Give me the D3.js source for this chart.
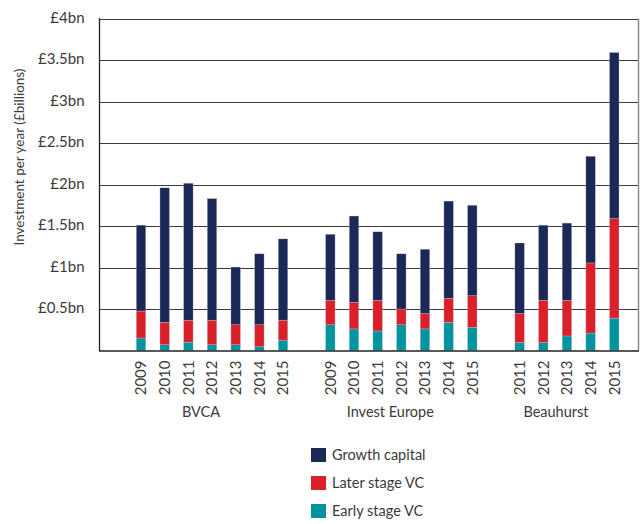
<!DOCTYPE html>
<html>
<head>
<meta charset="utf-8">
<script src="https://cdn.jsdelivr.net/npm/d3@7"></script>
<style>
  html, body { margin: 0; padding: 0; background: #fff; }
  text { font-family: Lato, "Open Sans", sans-serif; fill: #3a3a3a; }
</style>
</head>
<body>
<svg id="chart" width="641" height="524"></svg>
<script>
// ---- Data ----
const groups = ["BVCA", "Invest Europe", "Beauhurst"];
const bvcaYears = ["2009", "2010", "2011", "2012", "2013", "2014", "2015"];
const investEuropeYears = ["2009", "2010", "2011", "2012", "2013", "2014", "2015"];
const beauhurstYears = ["2011", "2012", "2013", "2014", "2015"];

// values in £bn
const bvcaEarly   = [0.15, 0.07, 0.10, 0.07, 0.07, 0.045, 0.125];
const bvcaLater   = [0.325, 0.27, 0.265, 0.295, 0.24, 0.265, 0.24];
const bvcaGrowth  = [1.035, 1.62, 1.65, 1.465, 0.695, 0.855, 0.98];

const ieEarly     = [0.31, 0.26, 0.235, 0.31, 0.26, 0.34, 0.28];
const ieLater     = [0.295, 0.32, 0.37, 0.19, 0.185, 0.29, 0.38];
const ieGrowth    = [0.795, 1.04, 0.825, 0.665, 0.775, 1.17, 1.09];

const bhEarly     = [0.095, 0.095, 0.175, 0.21, 0.39];
const bhLater     = [0.35, 0.51, 0.43, 0.845, 1.2];
const bhGrowth    = [0.85, 0.905, 0.93, 1.285, 2.0];

const seriesNames = ["Early stage VC", "Later stage VC", "Growth capital"];
const seriesColors = ["#0093a0", "#da2129", "#1c2957"];
const yTicks = [0.5, 1, 1.5, 2, 2.5, 3, 3.5, 4];
const yTickLabels = ["£0.5bn", "£1bn", "£1.5bn", "£2bn", "£2.5bn", "£3bn", "£3.5bn", "£4bn"];
const yTitle = "Investment per year (£billions)";

// ---- Build rows ----
const groupYears = [bvcaYears, investEuropeYears, beauhurstYears];
const groupEarly = [bvcaEarly, ieEarly, bhEarly];
const groupLater = [bvcaLater, ieLater, bhLater];
const groupGrowth = [bvcaGrowth, ieGrowth, bhGrowth];

const rows = [];
const slots = [];
groups.forEach((g, gi) => {
  if (gi > 0) slots.push("gap" + gi);
  groupYears[gi].forEach((y, i) => {
    const key = g + "|" + y;
    slots.push(key);
    rows.push({key, group: g, year: y,
      "Early stage VC": groupEarly[gi][i],
      "Later stage VC": groupLater[gi][i],
      "Growth capital": groupGrowth[gi][i]});
  });
});

// ---- Layout ----
const svg = d3.select("#chart");
const plotLeft = 99.5, plotRight = 639, plotTop = 18.5, plotBottom = 350.5;

const x = d3.scaleBand().domain(slots).range([129.2, 626.1])
  .paddingInner(0.6).paddingOuter(0.3);
const y = d3.scaleLinear().domain([0, 4]).range([plotBottom, plotTop]);

// gridlines
svg.append("g").selectAll("line").data(yTicks).join("line")
  .attr("x1", plotLeft).attr("x2", plotRight)
  .attr("y1", d => Math.round(y(d)) + 0.5).attr("y2", d => Math.round(y(d)) + 0.5)
  .attr("stroke", "#3c3c3c").attr("stroke-width", 1.2);

// right border
svg.append("line").attr("x1", plotRight - 0.5).attr("x2", plotRight - 0.5)
  .attr("y1", plotTop).attr("y2", plotBottom)
  .attr("stroke", "#8a8a8a").attr("stroke-width", 1.5);

// stacked bars
const stack = d3.stack().keys(seriesNames);
const stacked = stack(rows);
const color = d3.scaleOrdinal().domain(seriesNames).range(seriesColors);

svg.append("g").selectAll("g").data(stacked).join("g")
  .attr("fill", d => color(d.key))
  .selectAll("rect").data(d => d).join("rect")
  .attr("x", d => x(d.data.key))
  .attr("width", x.bandwidth())
  .attr("y", d => y(d[1]))
  .attr("height", d => y(d[0]) - y(d[1]))
  .attr("stroke", "#c9cbe0").attr("stroke-width", 0.5).attr("stroke-opacity", 0.6);

// y axis
const yAxis = d3.axisLeft(y).tickValues(yTicks)
  .tickFormat((d, i) => yTickLabels[i]).tickSize(0).tickPadding(15);
const yg = svg.append("g").attr("transform", `translate(${plotLeft},0)`).call(yAxis);
yg.select(".domain").remove();
yg.selectAll("text").style("font-size", "15px").attr("dy", "0.25em")
  .style("font-family", "Lato, sans-serif").attr("fill", "#3a3a3a");

// axis lines
svg.append("line").attr("x1", plotLeft).attr("x2", plotLeft)
  .attr("y1", plotTop - 0.5).attr("y2", plotBottom + 1)
  .attr("stroke", "#222").attr("stroke-width", 1.3);
svg.append("line").attr("x1", plotLeft).attr("x2", plotRight)
  .attr("y1", plotBottom + 0.5).attr("y2", plotBottom + 0.5)
  .attr("stroke", "#222").attr("stroke-width", 1.3);

// x axis (years)
const xAxis = d3.axisBottom(x).tickSize(0).tickPadding(0)
  .tickFormat(k => k.startsWith("gap") ? "" : k.split("|")[1]);
const xg = svg.append("g").attr("transform", `translate(0,${plotBottom})`).call(xAxis);
xg.select(".domain").remove();
xg.selectAll("text")
  .attr("transform", "rotate(-90)")
  .attr("x", -10).attr("y", 0).attr("dy", "0.35em")
  .style("text-anchor", "end")
  .style("font-size", "15px").style("font-family", "Lato, sans-serif")
  .attr("fill", "#3a3a3a");

// group labels
groups.forEach((g, gi) => {
  const yrs = groupYears[gi];
  const first = x(g + "|" + yrs[0]);
  const last = x(g + "|" + yrs[yrs.length - 1]) + x.bandwidth();
  svg.append("text")
    .attr("x", (first + last) / 2 - 11)
    .attr("y", 417)
    .attr("text-anchor", "middle")
    .style("font-size", "14.5px")
    .text(g);
});

// y title
svg.append("text")
  .attr("transform", "translate(24,157) rotate(-90)")
  .attr("text-anchor", "middle")
  .style("font-size", "13.5px")
  .text(yTitle);

// legend
const legendOrder = ["Growth capital", "Later stage VC", "Early stage VC"];
const lg = svg.append("g").attr("transform", "translate(311,448)");
legendOrder.forEach((name, i) => {
  const row = lg.append("g").attr("transform", `translate(0,${i * 28})`);
  row.append("rect").attr("width", 15).attr("height", 14).attr("fill", color(name));
  row.append("text").attr("x", 21).attr("y", 7).attr("dy", "0.36em")
    .style("font-size", "14.5px").text(name);
});
</script>
</body>
</html>
